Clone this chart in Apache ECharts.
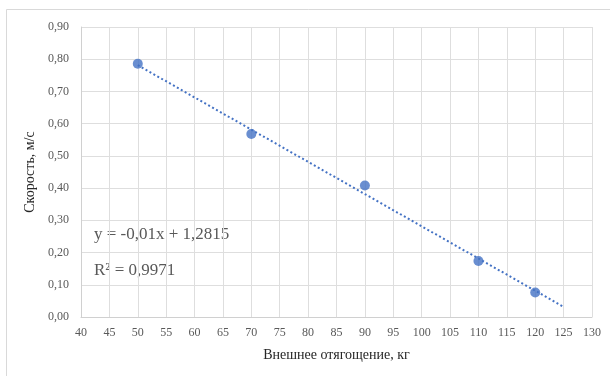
<!DOCTYPE html>
<html>
<head>
<meta charset="utf-8">
<script src="https://cdn.jsdelivr.net/npm/echarts@6/dist/echarts.min.js"></script>
<style>
  html, body { margin: 0; padding: 0; background: #fff; }
  #chart { width: 610px; height: 376px; }
</style>
</head>
<body>
<div id="chart"></div>
<script>
// Measured load (kg) and speed (m/s)
const loads = [50, 70, 90, 110, 120];
const speeds = [0.786, 0.568, 0.408, 0.174, 0.076];

// Linear trend as stated on the chart
const trendSlope = -0.01;
const trendIntercept = 1.2815;
const trendR2 = 0.9971;
const trendRange = [50, 125];

const xTicks = { min: 40, max: 130, step: 5 };
const yTicks = { min: 0, max: 0.9, step: 0.1 };

const xTitle = 'Внешнее отягощение, кг';
const yTitle = 'Скорость, м/с';

const serif = "'Liberation Serif', 'Times New Roman', serif";
const comma = (v, d) => v.toFixed(d).replace('.', ',');

const points = loads.map((x, i) => [x, speeds[i]]);
const trend = trendRange.map(x => [x, trendSlope * x + trendIntercept]);

const eqText = 'y = ' + comma(trendSlope, 2) + 'x + ' + comma(trendIntercept, 4);
const r2Text = 'R² = ' + comma(trendR2, 4);

const chart = echarts.init(document.getElementById('chart'), null, { renderer: 'canvas' });
chart.setOption({
  animation: false,
  backgroundColor: '#fff',
  grid: { left: 81, right: 18, top: 27, bottom: 59 },
  xAxis: {
    type: 'value',
    min: xTicks.min, max: xTicks.max, interval: xTicks.step,
    name: xTitle,
    nameLocation: 'middle',
    nameGap: 31,
    nameTextStyle: { fontFamily: serif, fontSize: 14, color: '#262626' },
    axisLine: { show: true, lineStyle: { color: '#d0d0d0', width: 1 } },
    axisTick: { show: false },
    axisLabel: { fontFamily: serif, fontSize: 12, color: '#595959', margin: 10 },
    splitLine: { show: true, lineStyle: { color: '#dedede', width: 1 } }
  },
  yAxis: {
    type: 'value',
    min: yTicks.min, max: yTicks.max, interval: yTicks.step,
    name: yTitle,
    nameLocation: 'middle',
    nameGap: 41,
    nameRotate: 90,
    nameTextStyle: { fontFamily: serif, fontSize: 14, color: '#262626' },
    axisLine: { show: true, lineStyle: { color: '#d0d0d0', width: 1 } },
    axisTick: { show: false },
    axisLabel: {
      fontFamily: serif, fontSize: 12, color: '#595959', margin: 12,
      formatter: v => comma(v, 2)
    },
    splitLine: { show: true, lineStyle: { color: '#dedede', width: 1 } }
  },
  series: [
    {
      type: 'line',
      data: trend,
      symbol: 'none',
      lineStyle: { color: '#4472C4', width: 2, type: [2, 2.5], cap: 'butt' },
      z: 2
    },
    {
      type: 'scatter',
      data: points,
      symbol: 'circle',
      symbolSize: 10,
      itemStyle: { color: '#4472C4' },
      z: 3
    }
  ],
  graphic: [
    {
      type: 'rect',
      shape: { x: 6.5, y: 9.5, width: 700, height: 500 },
      style: { fill: 'none', stroke: '#d9d9d9', lineWidth: 1 },
      silent: true
    },
    {
      type: 'text',
      left: 94, top: 226,
      style: { text: eqText, font: '17px ' + serif, fill: '#595959' }
    },
    {
      type: 'text',
      left: 94, top: 262,
      style: { text: r2Text, font: '17px ' + serif, fill: '#595959' }
    }
  ]
});
</script>
</body>
</html>
